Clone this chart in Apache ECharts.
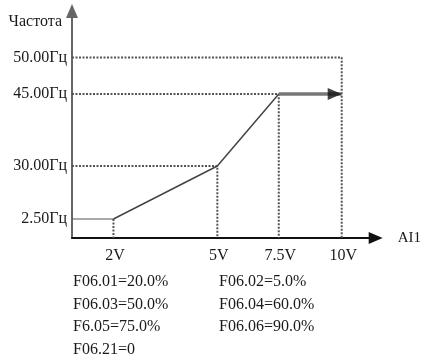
<html>
<head>
<meta charset="utf-8">
<script src="https://cdn.jsdelivr.net/npm/echarts@6/dist/echarts.min.js"></script>
</head>
<body style="margin:0">
    <div id="main" style="width:424px;height:362px;"></div>
</body>
</html>

<script>
    // values
    var voltTicks = [2, 5, 7.5, 10];
    var voltLabels = ['2V', '5V', '7.5V', '10V'];
    var freqTicks = [2.5, 30, 45, 50];
    var freqLabels = ['2.50Гц', '30.00Гц', '45.00Гц', '50.00Гц'];

    var biasVolts = [0, 2];          // flat part below 2V
    var biasHz = [2.5, 2.5];
    var curveVolts = [2, 5, 7.5];    // ramp
    var curveHz = [2.5, 30, 45];
    var holdVolts = [7.5, 10];       // clamp at 45 Hz
    var holdHz = [45, 45];
    var guideVolts = [10, 7.5, 5, 2];
    var guideHz = [50, 45, 30, 2.5];

    var notes = [
        ['F06.01=20.0%', 'F06.02=5.0%'],
        ['F06.03=50.0%', 'F06.04=60.0%'],
        ['F6.05=75.0%', 'F06.06=90.0%'],
        ['F06.21=0']
    ];

    // the drawing is a schematic, not to scale: piecewise scale knots
    var xKnots = [0, 2, 5, 7.5, 10], xSlots = [0, 41.5, 145.5, 207, 270];
    var yKnots = [0, 2.5, 30, 45, 50], ySlots = [0, 19, 72, 144, 180.5];

    function interp(v, knots, slots) {
        for (var i = 1; i < knots.length; i++) {
            if (v <= knots[i]) {
                var t = (v - knots[i - 1]) / (knots[i] - knots[i - 1]);
                return slots[i - 1] + t * (slots[i] - slots[i - 1]);
            }
        }
        return slots[slots.length - 1];
    }
    function pt(v, hz) { return [interp(v, xKnots, xSlots), interp(hz, yKnots, ySlots)]; }
    function pts(vs, hs) { return vs.map(function (v, i) { return pt(v, hs[i]); }); }

    var font = 'Liberation Serif';
    var ink = '#1a1a1a';

    var xPos = voltTicks.map(function (v) { return interp(v, xKnots, xSlots); });
    var yPos = freqTicks.map(function (h) { return interp(h, yKnots, ySlots); });

    var dotted = { color: '#555', width: 2, type: [2, 1.5] };

    var series = [];
    guideVolts.forEach(function (v, i) {
        var h = guideHz[i];
        var d = (v === 2) ? [pt(v, h), pt(v, 0)] : [pt(0, h), pt(v, h), pt(v, 0)];
        series.push({ type: 'line', data: d, symbol: 'none', lineStyle: dotted, animation: false, z: 1 });
    });
    series.push({ type: 'line', data: pts(biasVolts, biasHz), symbol: 'none',
        lineStyle: { color: '#555', width: 1.2 }, animation: false, z: 2 });
    series.push({ type: 'line', data: pts(curveVolts, curveHz), symbol: 'none',
        lineStyle: { color: '#444', width: 1.5 }, animation: false, z: 2 });
    series.push({ type: 'line', data: pts(holdVolts, holdHz), symbol: 'none',
        lineStyle: { color: '#777', width: 3.5 }, animation: false, z: 3 });
    series.push({ type: 'scatter', data: [pt(holdVolts[1], holdHz[1])], symbol: 'triangle',
        symbolRotate: -90, symbolSize: [12, 14], symbolOffset: [-7, 0],
        itemStyle: { color: '#111' }, animation: false, z: 4 });

    var graphic = [];
    notes.forEach(function (row, r) {
        row.forEach(function (txt, c) {
            graphic.push({
                type: 'text', left: c === 0 ? 73 : 219, top: 274 + r * 22.5,
                style: { text: txt, fill: ink, font: '16px "' + font + '"' }
            });
        });
    });

    var chartDom = document.getElementById('main');
    var myChart = echarts.init(chartDom);
    var option = {
        animation: false,
        grid: { left: 72, right: 48, top: 11, bottom: 124 },
        xAxis: {
            type: 'value', min: 0, max: 304,
            name: 'AI1', nameLocation: 'end', nameGap: 22,
            nameTextStyle: { color: ink, fontFamily: font, fontSize: 15, padding: [5, 0, 0, 0] },
            axisLine: { lineStyle: { color: '#111', width: 2 }, symbol: ['none', 'triangle'], symbolSize: [12, 14] },
            axisTick: { show: false },
            splitLine: { show: false },
            axisLabel: {
                customValues: xPos, margin: 10, color: ink, fontFamily: font, fontSize: 16, padding: [0, 0, 0, 3],
                formatter: function (v) { return voltLabels[xPos.indexOf(v)]; }
            }
        },
        yAxis: {
            type: 'value', min: 0, max: 227,
            name: 'Частота', nameLocation: 'end', nameGap: -11,
            nameTextStyle: { color: ink, fontFamily: font, fontSize: 16, align: 'right', verticalAlign: 'middle', padding: [0, 10, 0, 0] },
            axisLine: { lineStyle: { color: '#666', width: 2 }, symbol: ['none', 'triangle'], symbolSize: [12, 14] },
            axisTick: { show: false },
            splitLine: { show: false },
            axisLabel: {
                customValues: yPos, margin: 5, color: ink, fontFamily: font, fontSize: 16,
                formatter: function (v) { return freqLabels[yPos.indexOf(v)]; }
            }
        },
        graphic: graphic,
        series: series
    };

    option && myChart.setOption(option);
</script>
